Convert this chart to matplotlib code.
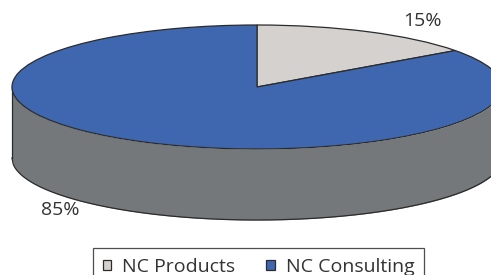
import numpy as np
import matplotlib
matplotlib.use("Agg")
import matplotlib.pyplot as plt

categories = ["NC Products", "NC Consulting"]
values = [15, 85]
colors = ["#d5d1ce", "#3f67b0"]
side_color = "#75787a"
label_texts = ["15%", "85%"]

W, H = 491, 275
fig = plt.figure(figsize=(W / 100, H / 100), dpi=100)
ax = fig.add_axes([0, 0, 1, 1])
ax.set_axis_off()

plt.rcParams["font.family"] = ["Open Sans", "DejaVu Sans"]

# pixel geometry of the ellipse
cx, cy, a, b, depth = 257, 87, 245, 62, 71
d = depth / b

# side of the cylinder (front half)
x = np.linspace(-1, 1, 400)
ytop = -np.sqrt(np.clip(1 - x**2, 0, None))
ax.fill_between(x, ytop, ytop - d, color=side_color, lw=0, zorder=1)
ax.plot(x, ytop - d, color="#2b2b2b", lw=0.9, zorder=2)
ax.plot([-1, -1], [0, -d], color="#2b2b2b", lw=0.9, zorder=2)
ax.plot([1, 1], [0, -d], color="#2b2b2b", lw=0.9, zorder=2)

wedges, _ = ax.pie(values, colors=colors, startangle=90, counterclock=False,
                   radius=1, center=(0, 0), frame=True,
                   wedgeprops=dict(edgecolor="#2b2b2b", linewidth=0.9))
for w_ in wedges:
    w_.set_zorder(3)
ax.set_xlim((0 - cx) / a, (W - cx) / a)
ax.set_ylim((cy - H) / b, cy / b)
ax.set_aspect("auto")
ax.set_axis_off()

def px(xp, yp):
    return (xp - cx) / a, (cy - yp) / b

tx, ty = px(422, 21)
ax.text(tx, ty, label_texts[0], fontsize=14, color="#333333", ha="center", va="center")
tx, ty = px(60, 210)
ax.text(tx, ty, label_texts[1], fontsize=14, color="#333333", ha="center", va="center")

leg = fig.legend(wedges, categories, loc="upper left",
                 bbox_to_anchor=(93 / W, 1 - 248 / H), borderaxespad=0, ncol=2,
                 fontsize=14, frameon=True, fancybox=False, edgecolor="#222222",
                 handlelength=0.45, handleheight=0.45, handletextpad=0.55,
                 columnspacing=1.6, borderpad=0.5, labelcolor="#333333")
leg.get_frame().set_linewidth(0.9)

fig.savefig("out.png", dpi=100)
